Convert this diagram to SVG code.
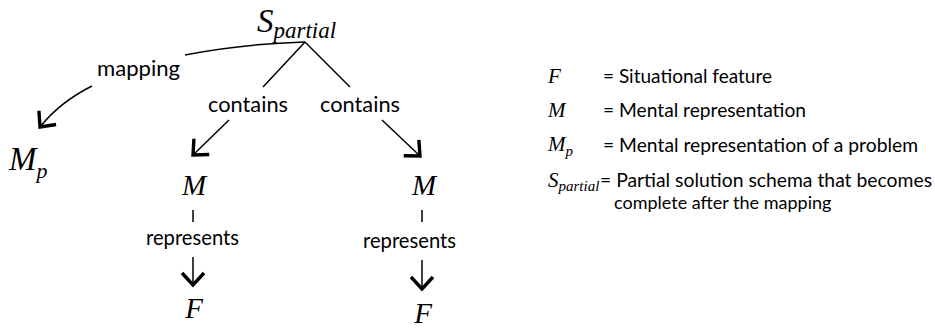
<svg xmlns="http://www.w3.org/2000/svg" width="935" height="331" viewBox="0 0 935 331">
<defs>
<style>
.lbl{font-family:Lato,"Open Sans","Liberation Sans",sans-serif;font-size:21px;fill:#000}
.leg{font-family:Lato,"Open Sans","Liberation Sans",sans-serif;font-size:19px;fill:#000}
.sym{font-family:"Liberation Serif","Times New Roman",serif;font-style:italic;fill:#000}
.ln{fill:none;stroke:#000;stroke-width:1.5}
</style>
<marker id="chev" markerUnits="userSpaceOnUse" markerWidth="30" markerHeight="30" refX="15" refY="15" orient="auto" overflow="visible">
<path d="M3 4 L15 15 L3 26" fill="none" stroke="#000" stroke-width="3.4"/>
</marker>
</defs>
<rect width="935" height="331" fill="#fff"/>
<g id="connectors">
<path class="ln" d="M305 42 Q240 44 185 55"/>
<path class="ln" d="M305 42 L263 87"/>
<path class="ln" d="M305 42 L350 87"/>
<path class="ln" d="M92 86 Q60 102 40 127" marker-end="url(#chev)"/>
<path class="ln" d="M229 120 L193 155" marker-end="url(#chev)"/>
<path class="ln" d="M382 120 L420 156" marker-end="url(#chev)"/>
<path class="ln" d="M193 210 L193 222"/>
<path class="ln" d="M193 257 L193 285" marker-end="url(#chev)"/>
<path class="ln" d="M422 210 L422 222"/>
<path class="ln" d="M422 260 L422 289" marker-end="url(#chev)"/>
</g>
<g id="spartial"><text class="sym" x="257" y="32" font-size="33">S<tspan font-size="23" dy="6">partial</tspan></text></g>
<g id="mapping"><text class="lbl" x="97" y="76" textLength="83" lengthAdjust="spacingAndGlyphs">mapping</text></g>
<g id="mp"><text class="sym" x="9" y="170" font-size="33">M<tspan font-size="22" dy="8">p</tspan></text></g>
<g id="contains1"><text class="lbl" x="208" y="112" textLength="80" lengthAdjust="spacingAndGlyphs">contains</text></g>
<g id="contains2"><text class="lbl" x="320" y="112" textLength="80" lengthAdjust="spacingAndGlyphs">contains</text></g>
<g id="m1"><text class="sym" x="194" y="195" font-size="29" text-anchor="middle">M</text></g>
<g id="m2"><text class="sym" x="424" y="195" font-size="29" text-anchor="middle">M</text></g>
<g id="represents1"><text class="lbl" x="146" y="245" textLength="93" lengthAdjust="spacingAndGlyphs">represents</text></g>
<g id="represents2"><text class="lbl" x="363" y="248" textLength="93" lengthAdjust="spacingAndGlyphs">represents</text></g>
<g id="f1"><text class="sym" x="194" y="318" font-size="29" text-anchor="middle">F</text></g>
<g id="f2"><text class="sym" x="423" y="323" font-size="29" text-anchor="middle">F</text></g>
<g id="legend">
<text class="sym" x="548" y="83" font-size="21">F</text>
<text class="leg" x="603" y="83" textLength="169" lengthAdjust="spacingAndGlyphs">= Situational feature</text>
<text class="sym" x="548" y="117" font-size="21">M</text>
<text class="leg" x="603" y="117" textLength="203" lengthAdjust="spacingAndGlyphs">= Mental representation</text>
<text class="sym" x="548" y="151" font-size="21">M<tspan font-size="15" dy="5">p</tspan></text>
<text class="leg" x="603" y="152" textLength="315" lengthAdjust="spacingAndGlyphs">= Mental representation of a problem</text>
<text class="sym" x="548" y="187" font-size="21">S<tspan font-size="15" dy="4">partial</tspan></text>
<text class="leg" x="600" y="187" textLength="332" lengthAdjust="spacingAndGlyphs">= Partial solution schema that becomes</text>
<text class="leg" x="614" y="209" style="font-size:18px">complete after the mapping</text>
</g>
</svg>
